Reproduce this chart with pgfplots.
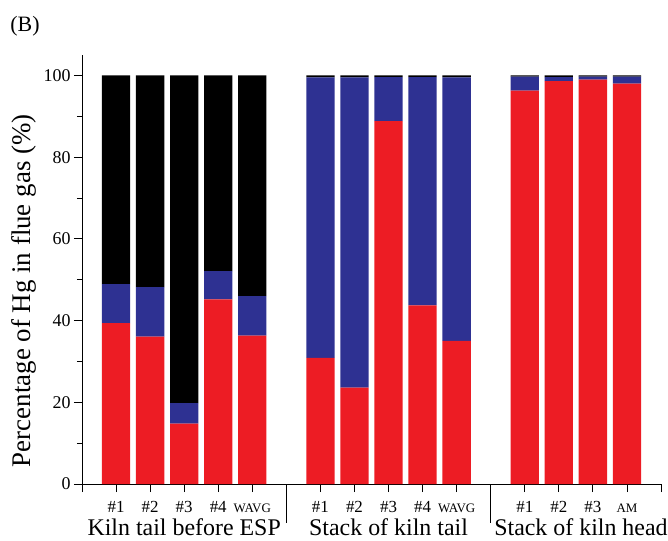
\documentclass[border=0pt]{standalone}
\usepackage{pgfplots}
\pgfplotsset{compat=1.18}
\usepackage{fontspec}
\setmainfont{Liberation Serif}
\definecolor{hgred}{RGB}{237,28,36}
\definecolor{hgblue}{RGB}{46,49,146}
\begin{document}
\begin{tikzpicture}
\useasboundingbox (-82bp,-57bp) rectangle (586bp,484bp);
\begin{axis}[
  scale only axis,
  width=579bp, height=429bp,
  xmin=0, xmax=17, ymin=0, ymax=105,
  axis x line=bottom, axis y line=left,
  axis line style={-, line width=1pt},
  ybar stacked, bar width=28.3bp,
  xtick={0,...,17},
  xticklabels={,\#1,\#2,\#3,\#4,{\fontsize{13}{13}\selectfont WAVG},,\#1,\#2,\#3,\#4,{\fontsize{13}{13}\selectfont WAVG},,\#1,\#2,\#3,{\fontsize{13}{13}\selectfont AM},},
  ytick={0,20,...,100},
  minor ytick={10,30,...,90},
  tick align=outside,
  major tick length=8bp, minor tick length=5bp,
  tick style={black, line width=0.8pt},
  /pgf/number format/assume math mode=true,
  xticklabel style={font=\fontsize{17}{17}\selectfont, anchor=base, yshift=-20bp},
  yticklabel style={font=\fontsize{18}{18}\selectfont},
  clip=false,
]
\addplot[fill=hgred, draw=none] coordinates {
 (1,39.4) (2,36.1) (3,14.8) (4,45.2) (5,36.3)
 (7,30.9) (8,23.6) (9,88.8) (10,43.7) (11,35.0)
 (13,96.3) (14,98.6) (15,99.0) (16,98.0)};
\addplot[fill=hgblue, draw=none] coordinates {
 (1,9.5) (2,12.1) (3,5.0) (4,6.9) (5,9.7)
 (7,68.6) (8,75.9) (9,10.8) (10,55.9) (11,64.5)
 (13,3.4) (14,1.0) (15,0.7) (16,1.7)};
\addplot[fill=black, draw=none] coordinates {
 (1,51.1) (2,51.8) (3,80.2) (4,47.9) (5,54.0)
 (7,0.5) (8,0.5) (9,0.4) (10,0.4) (11,0.5)
 (13,0.3) (14,0.4) (15,0.3) (16,0.3)};
\draw[line width=1pt] (axis cs:6,0) -- ++(0,-39bp);
\draw[line width=1pt] (axis cs:12,0) -- ++(0,-39bp);
\node[font=\fontsize{24}{24}\selectfont] at ([yshift=-43bp]axis cs:3,0) {Kiln tail before ESP};
\node[font=\fontsize{24}{24}\selectfont] at ([yshift=-43bp]axis cs:9,0) {Stack of kiln tail};
\node[font=\fontsize{24}{24}\selectfont] at ([yshift=-43bp]axis cs:14.65,0) {Stack of kiln head};
\node[rotate=90, font=\fontsize{27}{27}\selectfont] at ([xshift=-58bp]axis cs:0,47.3) {Percentage of Hg in flue gas (\%)};
\end{axis}
\node[font=\fontsize{22}{22}\selectfont] at (-57bp,458bp) {(B)};
\end{tikzpicture}
\end{document}
